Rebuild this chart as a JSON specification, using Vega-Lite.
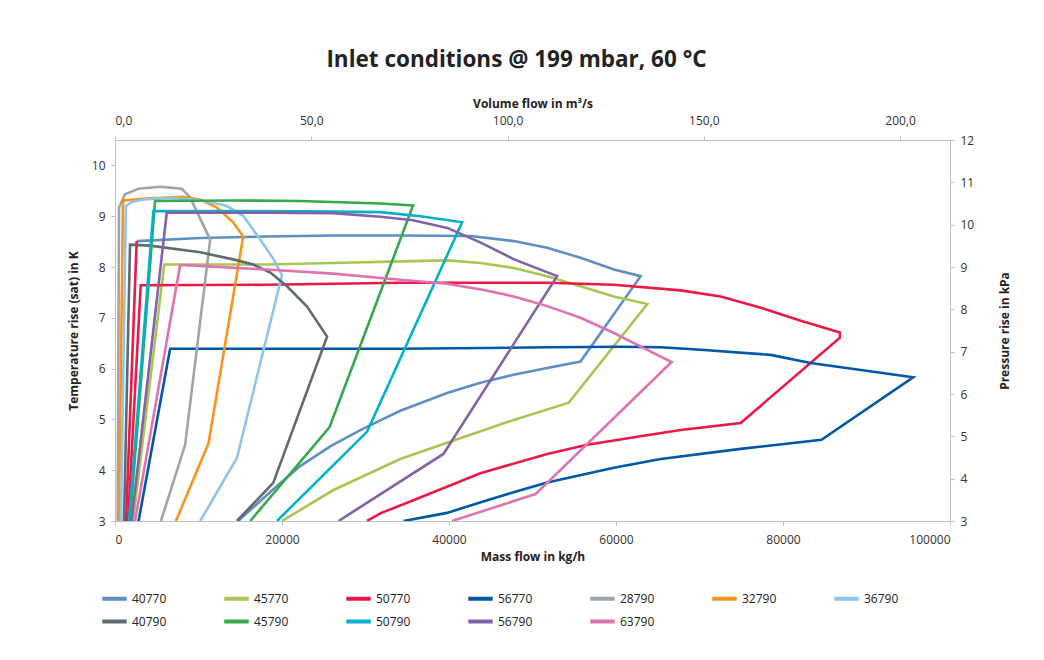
{
  "$schema": "https://vega.github.io/schema/vega-lite/v6.json",
  "autosize": {"type": "none"},
  "padding": {"left": 115, "top": 140, "right": 94, "bottom": 139},
  "width": 835,
  "height": 381,
  "background": "white",
  "config": {
    "view": {"stroke": null},
    "font": "Open Sans",
    "axis": {
      "grid": false,
      "domainColor": "#BFBFBF",
      "tickColor": "#BFBFBF",
      "tickSize": 4,
      "labelFontSize": 12,
      "labelColor": "#333333",
      "titleFontSize": 12,
      "titleFontWeight": "bold",
      "titleColor": "#222222"
    }
  },
  "title": {
    "text": "Inlet conditions @ 199 mbar, 60 °C",
    "fontSize": 22.5,
    "fontWeight": "bold",
    "color": "#222222",
    "anchor": "middle",
    "offset": 26,
    "dx": -16
  },
  "layer": [
    {
      "data": {
        "values": [
          {"s": "40770", "p": "a", "o": 1, "m": 2600, "t": 8.51},
          {"s": "40770", "p": "a", "o": 2, "m": 10200, "t": 8.57},
          {"s": "40770", "p": "a", "o": 3, "m": 18200, "t": 8.6},
          {"s": "40770", "p": "a", "o": 4, "m": 26100, "t": 8.62},
          {"s": "40770", "p": "a", "o": 5, "m": 34200, "t": 8.62},
          {"s": "40770", "p": "a", "o": 6, "m": 42560, "t": 8.61},
          {"s": "40770", "p": "a", "o": 7, "m": 47760, "t": 8.51},
          {"s": "40770", "p": "a", "o": 8, "m": 51760, "t": 8.38},
          {"s": "40770", "p": "a", "o": 9, "m": 55750, "t": 8.18},
          {"s": "40770", "p": "a", "o": 10, "m": 59750, "t": 7.95},
          {"s": "40770", "p": "a", "o": 11, "m": 62950, "t": 7.82},
          {"s": "40770", "p": "a", "o": 12, "m": 55750, "t": 6.14},
          {"s": "40770", "p": "a", "o": 13, "m": 51760, "t": 6.01},
          {"s": "40770", "p": "a", "o": 14, "m": 47720, "t": 5.88},
          {"s": "40770", "p": "a", "o": 15, "m": 43760, "t": 5.72},
          {"s": "40770", "p": "a", "o": 16, "m": 39770, "t": 5.52},
          {"s": "40770", "p": "a", "o": 17, "m": 34170, "t": 5.17},
          {"s": "40770", "p": "a", "o": 18, "m": 31770, "t": 4.98},
          {"s": "40770", "p": "a", "o": 19, "m": 29380, "t": 4.79},
          {"s": "40770", "p": "a", "o": 20, "m": 25780, "t": 4.47},
          {"s": "40770", "p": "a", "o": 21, "m": 22180, "t": 4.08},
          {"s": "40770", "p": "a", "o": 22, "m": 18580, "t": 3.57},
          {"s": "40770", "p": "a", "o": 23, "m": 14750, "t": 3.0},

          {"s": "45770", "p": "b", "o": 1, "m": 2160, "t": 3.0},
          {"s": "45770", "p": "b", "o": 2, "m": 5900, "t": 8.05},
          {"s": "45770", "p": "b", "o": 3, "m": 18200, "t": 8.05},
          {"s": "45770", "p": "b", "o": 4, "m": 26100, "t": 8.08},
          {"s": "45770", "p": "b", "o": 5, "m": 34170, "t": 8.11},
          {"s": "45770", "p": "b", "o": 6, "m": 39770, "t": 8.13},
          {"s": "45770", "p": "b", "o": 7, "m": 43760, "t": 8.08},
          {"s": "45770", "p": "b", "o": 8, "m": 47760, "t": 7.98},
          {"s": "45770", "p": "b", "o": 9, "m": 51760, "t": 7.82},
          {"s": "45770", "p": "b", "o": 10, "m": 55750, "t": 7.62},
          {"s": "45770", "p": "b", "o": 11, "m": 59750, "t": 7.42},
          {"s": "45770", "p": "b", "o": 12, "m": 63750, "t": 7.27},
          {"s": "45770", "p": "b", "o": 13, "m": 54350, "t": 5.33},
          {"s": "45770", "p": "b", "o": 14, "m": 47760, "t": 4.99},
          {"s": "45770", "p": "b", "o": 15, "m": 39770, "t": 4.54},
          {"s": "45770", "p": "b", "o": 16, "m": 34170, "t": 4.22},
          {"s": "45770", "p": "b", "o": 17, "m": 26170, "t": 3.61},
          {"s": "45770", "p": "b", "o": 18, "m": 19990, "t": 3.0},

          {"s": "50770", "p": "cL", "o": 1, "m": 1320, "t": 3.0},
          {"s": "50770", "p": "cL", "o": 2, "m": 2600, "t": 8.51},

          {"s": "50770", "p": "c", "o": 1, "m": 1560, "t": 3.0},
          {"s": "50770", "p": "c", "o": 2, "m": 3080, "t": 7.64},
          {"s": "50770", "p": "c", "o": 3, "m": 18190, "t": 7.65},
          {"s": "50770", "p": "c", "o": 4, "m": 34170, "t": 7.69},
          {"s": "50770", "p": "c", "o": 5, "m": 51760, "t": 7.69},
          {"s": "50770", "p": "c", "o": 6, "m": 59750, "t": 7.65},
          {"s": "50770", "p": "c", "o": 7, "m": 67740, "t": 7.54},
          {"s": "50770", "p": "c", "o": 8, "m": 72540, "t": 7.42},
          {"s": "50770", "p": "c", "o": 9, "m": 77340, "t": 7.2},
          {"s": "50770", "p": "c", "o": 10, "m": 82130, "t": 6.94},
          {"s": "50770", "p": "c", "o": 11, "m": 86810, "t": 6.71},
          {"s": "50770", "p": "c", "o": 12, "m": 86810, "t": 6.61},
          {"s": "50770", "p": "c", "o": 13, "m": 74940, "t": 4.93},
          {"s": "50770", "p": "c", "o": 14, "m": 67740, "t": 4.79},
          {"s": "50770", "p": "c", "o": 15, "m": 62550, "t": 4.66},
          {"s": "50770", "p": "c", "o": 16, "m": 56550, "t": 4.5},
          {"s": "50770", "p": "c", "o": 17, "m": 51760, "t": 4.32},
          {"s": "50770", "p": "c", "o": 18, "m": 43760, "t": 3.94},
          {"s": "50770", "p": "c", "o": 19, "m": 35730, "t": 3.41},
          {"s": "50770", "p": "c", "o": 20, "m": 31770, "t": 3.15},
          {"s": "50770", "p": "c", "o": 21, "m": 30180, "t": 3.0},

          {"s": "56770", "p": "d", "o": 1, "m": 2820, "t": 3.0},
          {"s": "56770", "p": "d", "o": 2, "m": 6600, "t": 6.39},
          {"s": "56770", "p": "d", "o": 3, "m": 34170, "t": 6.39},
          {"s": "56770", "p": "d", "o": 4, "m": 52160, "t": 6.42},
          {"s": "56770", "p": "d", "o": 5, "m": 60550, "t": 6.43},
          {"s": "56770", "p": "d", "o": 6, "m": 65330, "t": 6.42},
          {"s": "56770", "p": "d", "o": 7, "m": 70140, "t": 6.37},
          {"s": "56770", "p": "d", "o": 8, "m": 78530, "t": 6.27},
          {"s": "56770", "p": "d", "o": 9, "m": 83300, "t": 6.11},
          {"s": "56770", "p": "d", "o": 10, "m": 95590, "t": 5.83},
          {"s": "56770", "p": "d", "o": 11, "m": 84610, "t": 4.6},
          {"s": "56770", "p": "d", "o": 12, "m": 74940, "t": 4.42},
          {"s": "56770", "p": "d", "o": 13, "m": 65350, "t": 4.22},
          {"s": "56770", "p": "d", "o": 14, "m": 59750, "t": 4.05},
          {"s": "56770", "p": "d", "o": 15, "m": 51760, "t": 3.76},
          {"s": "56770", "p": "d", "o": 16, "m": 44960, "t": 3.43},
          {"s": "56770", "p": "d", "o": 17, "m": 39770, "t": 3.16},
          {"s": "56770", "p": "d", "o": 18, "m": 34570, "t": 3.0},

          {"s": "28790", "p": "e", "o": 1, "m": 320, "t": 3.0},
          {"s": "28790", "p": "e", "o": 2, "m": 480, "t": 9.17},
          {"s": "28790", "p": "e", "o": 3, "m": 1200, "t": 9.43},
          {"s": "28790", "p": "e", "o": 4, "m": 1800, "t": 9.47},
          {"s": "28790", "p": "e", "o": 5, "m": 2760, "t": 9.54},
          {"s": "28790", "p": "e", "o": 6, "m": 5400, "t": 9.58},
          {"s": "28790", "p": "e", "o": 7, "m": 8000, "t": 9.54},
          {"s": "28790", "p": "e", "o": 8, "m": 9000, "t": 9.37},
          {"s": "28790", "p": "e", "o": 9, "m": 11400, "t": 8.54},
          {"s": "28790", "p": "e", "o": 10, "m": 8400, "t": 4.5},
          {"s": "28790", "p": "e", "o": 11, "m": 5500, "t": 3.0},

          {"s": "32790", "p": "f", "o": 1, "m": 480, "t": 3.0},
          {"s": "32790", "p": "f", "o": 2, "m": 960, "t": 9.31},
          {"s": "32790", "p": "f", "o": 3, "m": 4200, "t": 9.35},
          {"s": "32790", "p": "f", "o": 4, "m": 8150, "t": 9.38},
          {"s": "32790", "p": "f", "o": 5, "m": 10200, "t": 9.33},
          {"s": "32790", "p": "f", "o": 6, "m": 12200, "t": 9.17},
          {"s": "32790", "p": "f", "o": 7, "m": 14150, "t": 8.88},
          {"s": "32790", "p": "f", "o": 8, "m": 15350, "t": 8.6},
          {"s": "32790", "p": "f", "o": 9, "m": 11200, "t": 4.53},
          {"s": "32790", "p": "f", "o": 10, "m": 7300, "t": 3.0},

          {"s": "36790", "p": "g", "o": 1, "m": 720, "t": 3.0},
          {"s": "36790", "p": "g", "o": 2, "m": 1300, "t": 9.2},
          {"s": "36790", "p": "g", "o": 3, "m": 2000, "t": 9.28},
          {"s": "36790", "p": "g", "o": 4, "m": 3400, "t": 9.33},
          {"s": "36790", "p": "g", "o": 5, "m": 6200, "t": 9.36},
          {"s": "36790", "p": "g", "o": 6, "m": 10200, "t": 9.32},
          {"s": "36790", "p": "g", "o": 7, "m": 13400, "t": 9.2},
          {"s": "36790", "p": "g", "o": 8, "m": 15400, "t": 9.0},
          {"s": "36790", "p": "g", "o": 9, "m": 17400, "t": 8.54},
          {"s": "36790", "p": "g", "o": 10, "m": 19000, "t": 8.15},
          {"s": "36790", "p": "g", "o": 11, "m": 20000, "t": 7.84},
          {"s": "36790", "p": "g", "o": 12, "m": 14600, "t": 4.24},
          {"s": "36790", "p": "g", "o": 13, "m": 10200, "t": 3.0},

          {"s": "40790", "p": "h", "o": 1, "m": 1080, "t": 3.0},
          {"s": "40790", "p": "h", "o": 2, "m": 1800, "t": 8.44},
          {"s": "40790", "p": "h", "o": 3, "m": 4200, "t": 8.42},
          {"s": "40790", "p": "h", "o": 4, "m": 10200, "t": 8.29},
          {"s": "40790", "p": "h", "o": 5, "m": 14150, "t": 8.15},
          {"s": "40790", "p": "h", "o": 6, "m": 16550, "t": 8.05},
          {"s": "40790", "p": "h", "o": 7, "m": 18600, "t": 7.89},
          {"s": "40790", "p": "h", "o": 8, "m": 20600, "t": 7.62},
          {"s": "40790", "p": "h", "o": 9, "m": 23000, "t": 7.22},
          {"s": "40790", "p": "h", "o": 10, "m": 25400, "t": 6.63},
          {"s": "40790", "p": "h", "o": 11, "m": 18950, "t": 3.75},
          {"s": "40790", "p": "h", "o": 12, "m": 14600, "t": 3.0},

          {"s": "45790", "p": "i", "o": 1, "m": 1800, "t": 3.0},
          {"s": "45790", "p": "i", "o": 2, "m": 4800, "t": 9.3},
          {"s": "45790", "p": "i", "o": 3, "m": 14150, "t": 9.31},
          {"s": "45790", "p": "i", "o": 4, "m": 22200, "t": 9.3},
          {"s": "45790", "p": "i", "o": 5, "m": 31800, "t": 9.25},
          {"s": "45790", "p": "i", "o": 6, "m": 35700, "t": 9.21},
          {"s": "45790", "p": "i", "o": 7, "m": 25700, "t": 4.85},
          {"s": "45790", "p": "i", "o": 8, "m": 16200, "t": 3.0},

          {"s": "50790", "p": "j", "o": 1, "m": 1680, "t": 3.0},
          {"s": "50790", "p": "j", "o": 2, "m": 4600, "t": 9.1},
          {"s": "50790", "p": "j", "o": 3, "m": 18200, "t": 9.1},
          {"s": "50790", "p": "j", "o": 4, "m": 25800, "t": 9.09},
          {"s": "50790", "p": "j", "o": 5, "m": 31800, "t": 9.08},
          {"s": "50790", "p": "j", "o": 6, "m": 36600, "t": 9.0},
          {"s": "50790", "p": "j", "o": 7, "m": 41570, "t": 8.88},
          {"s": "50790", "p": "j", "o": 8, "m": 30200, "t": 4.76},
          {"s": "50790", "p": "j", "o": 9, "m": 19400, "t": 3.0},

          {"s": "56790", "p": "k", "o": 1, "m": 1980, "t": 3.0},
          {"s": "56790", "p": "k", "o": 2, "m": 6200, "t": 9.07},
          {"s": "56790", "p": "k", "o": 3, "m": 18200, "t": 9.07},
          {"s": "56790", "p": "k", "o": 4, "m": 26100, "t": 9.06},
          {"s": "56790", "p": "k", "o": 5, "m": 31800, "t": 8.99},
          {"s": "56790", "p": "k", "o": 6, "m": 35700, "t": 8.92},
          {"s": "56790", "p": "k", "o": 7, "m": 39800, "t": 8.77},
          {"s": "56790", "p": "k", "o": 8, "m": 43800, "t": 8.48},
          {"s": "56790", "p": "k", "o": 9, "m": 47800, "t": 8.15},
          {"s": "56790", "p": "k", "o": 10, "m": 52950, "t": 7.82},
          {"s": "56790", "p": "k", "o": 11, "m": 39330, "t": 4.32},
          {"s": "56790", "p": "k", "o": 12, "m": 26770, "t": 3.0},

          {"s": "63790", "p": "l", "o": 1, "m": 2400, "t": 3.0},
          {"s": "63790", "p": "l", "o": 2, "m": 7800, "t": 8.04},
          {"s": "63790", "p": "l", "o": 3, "m": 18200, "t": 7.95},
          {"s": "63790", "p": "l", "o": 4, "m": 26100, "t": 7.87},
          {"s": "63790", "p": "l", "o": 5, "m": 34170, "t": 7.75},
          {"s": "63790", "p": "l", "o": 6, "m": 39770, "t": 7.67},
          {"s": "63790", "p": "l", "o": 7, "m": 43760, "t": 7.56},
          {"s": "63790", "p": "l", "o": 8, "m": 47760, "t": 7.42},
          {"s": "63790", "p": "l", "o": 9, "m": 51760, "t": 7.23},
          {"s": "63790", "p": "l", "o": 10, "m": 55750, "t": 7.0},
          {"s": "63790", "p": "l", "o": 11, "m": 59750, "t": 6.7},
          {"s": "63790", "p": "l", "o": 12, "m": 63750, "t": 6.37},
          {"s": "63790", "p": "l", "o": 13, "m": 66660, "t": 6.13},
          {"s": "63790", "p": "l", "o": 14, "m": 50360, "t": 3.53},
          {"s": "63790", "p": "l", "o": 15, "m": 40370, "t": 3.0}
        ]
      },
      "mark": {"type": "line", "strokeWidth": 2.6, "clip": true},
      "encoding": {
        "x": {
          "field": "m",
          "type": "quantitative",
          "scale": {"domain": [0, 100000], "nice": false},
          "axis": {
            "orient": "bottom",
            "title": "Mass flow in kg/h",
            "values": [0, 20000, 40000, 60000, 80000, 100000],
            "format": "d",
            "labelPadding": 9,
            "titlePadding": 6
          }
        },
        "y": {
          "field": "t",
          "type": "quantitative",
          "scale": {"domain": [3, 10.5], "nice": false, "zero": false},
          "axis": {
            "orient": "left",
            "title": "Temperature rise (sat) in K",
            "values": [3, 4, 5, 6, 7, 8, 9, 10],
            "labelPadding": 6,
            "titlePadding": 11
          }
        },
        "color": {
          "field": "s",
          "type": "nominal",
          "scale": {
            "domain": ["40770", "45770", "50770", "56770", "28790", "32790", "36790", "40790", "45790", "50790", "56790", "63790"],
            "range": ["#5E8FC3", "#A8C653", "#EC1846", "#0057A6", "#9EA4A9", "#F7941D", "#91C4EB", "#5F6A71", "#37A84B", "#00B1CC", "#8263A8", "#DF72B0"]
          },
          "legend": {
            "orient": "none",
            "legendX": -15,
            "legendY": 444,
            "direction": "horizontal",
            "columns": 7,
            "title": null,
            "symbolType": "stroke",
            "symbolStrokeWidth": 4,
            "symbolSize": 600,
            "labelFontSize": 12,
            "labelColor": "#222222",
            "labelOffset": 3,
            "columnPadding": 49,
            "rowPadding": 0,
            "gridAlign": "all"
          }
        },
        "detail": {"field": "p"},
        "order": {"field": "o", "type": "quantitative"}
      }
    },
    {
      "data": {"values": [{"v": 0, "k": 3}, {"v": 212.7, "k": 12}]},
      "mark": {"type": "point", "opacity": 0},
      "encoding": {
        "x": {
          "field": "v",
          "type": "quantitative",
          "scale": {"domain": [0, 212.7], "nice": false},
          "axis": {
            "orient": "top",
            "title": "Volume flow in m³/s",
            "values": [0, 50, 100, 150, 200],
            "labelExpr": "replace(format(datum.value, '.1f'), '.', ',')",
            "labelPadding": 9,
            "titlePadding": 4
          }
        },
        "y": {
          "field": "k",
          "type": "quantitative",
          "scale": {"domain": [3, 12], "nice": false, "zero": false},
          "axis": {
            "orient": "right",
            "title": "Pressure rise in kPa",
            "values": [3, 4, 5, 6, 7, 8, 9, 10, 11, 12],
            "titleAngle": -90,
            "labelPadding": 6,
            "titlePadding": 38
          }
        }
      }
    }
  ],
  "resolve": {
    "scale": {"x": "independent", "y": "independent"},
    "axis": {"x": "independent", "y": "independent"}
  }
}
